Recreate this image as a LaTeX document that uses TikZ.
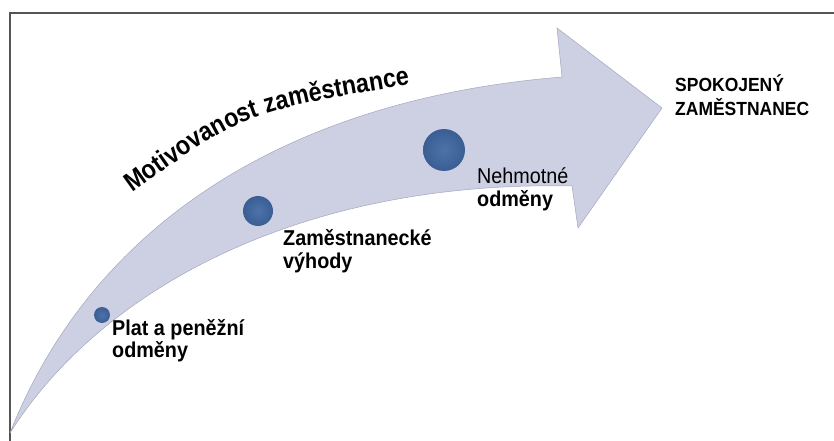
\documentclass[tikz,border=0pt]{standalone}
\usepackage{fontspec}
\setmainfont{Liberation Sans}
\newfontfamily\condfont[FakeStretch=0.88]{Liberation Sans}
\newfontfamily\labfont[FakeStretch=0.92]{Liberation Sans}
\usetikzlibrary{decorations.text}
\definecolor{arrowfill}{HTML}{CDD0E3}
\definecolor{arrowedge}{HTML}{A4A7BC}
\definecolor{ballin}{HTML}{4C73AA}
\definecolor{ballout}{HTML}{3A5E94}
\definecolor{framegray}{HTML}{555555}
\begin{document}
\begin{tikzpicture}[x=1pt,y=-1pt,
  lblb/.style={anchor=base west, inner sep=0pt, font=\labfont\bfseries\fontsize{21.5}{21.5}\selectfont},
  lblr/.style={anchor=base west, inner sep=0pt, font=\labfont\fontsize{21.5}{21.5}\selectfont},
  goal/.style={anchor=base west, inner sep=0pt, font=\labfont\bfseries\fontsize{19}{19}\selectfont},
  ballnode/.style={circle, inner sep=0pt, draw=none, inner color=ballin, outer color=ballout}]
\useasboundingbox (0,0) rectangle (834,441);
% frame
\draw[framegray, line width=1.2pt] (10,441) -- (10,13) -- (834,13);
% arrow
\coordinate (tail) at (10,433);
\coordinate (ub) at (562,77);
\coordinate (ht) at (557,28);
\coordinate (tip) at (662,108);
\coordinate (hb) at (578,228);
\coordinate (lb) at (572,186);
\fill[arrowfill, draw=arrowedge, line width=0.5pt, line join=miter]
  (tail) .. controls (90,230) and (280,100) .. (ub) -- (ht) -- (tip) -- (hb) -- (lb)
  .. controls (300,180) and (100,290) .. (tail) -- cycle;
% balls
\node[ballnode, minimum size=16pt] (b1) at (102,315) {};
\node[ballnode, minimum size=30pt] (b2) at (258,211) {};
\node[ballnode, minimum size=42pt] (b3) at (444,150) {};
% labels
\node[lblb] (l1a) at (112,335) {Plat a peněžní};
\node[lblb] (l1b) at (112,357) {odměny};
\node[lblb] (l2a) at (283,245) {Zaměstnanecké};
\node[lblb] (l2b) at (283,268) {výhody};
\node[lblr] (l3a) at (477,183) {Nehmotné};
\node[lblb] (l3b) at (477,206) {odměny};
\node[goal] (g1) at (675,92) {SPOKOJENÝ};
\node[goal] (g2) at (675,115) {ZAMĚSTNANEC};
% curved title
\path[decorate, decoration={text along path, text align=left,
  text={|\condfont\bfseries\fontsize{26.5}{26.5}\selectfont|Motivovanost zaměstnance}}]
  (132,193) .. controls (245,112) .. (414,84);
\end{tikzpicture}
\end{document}
